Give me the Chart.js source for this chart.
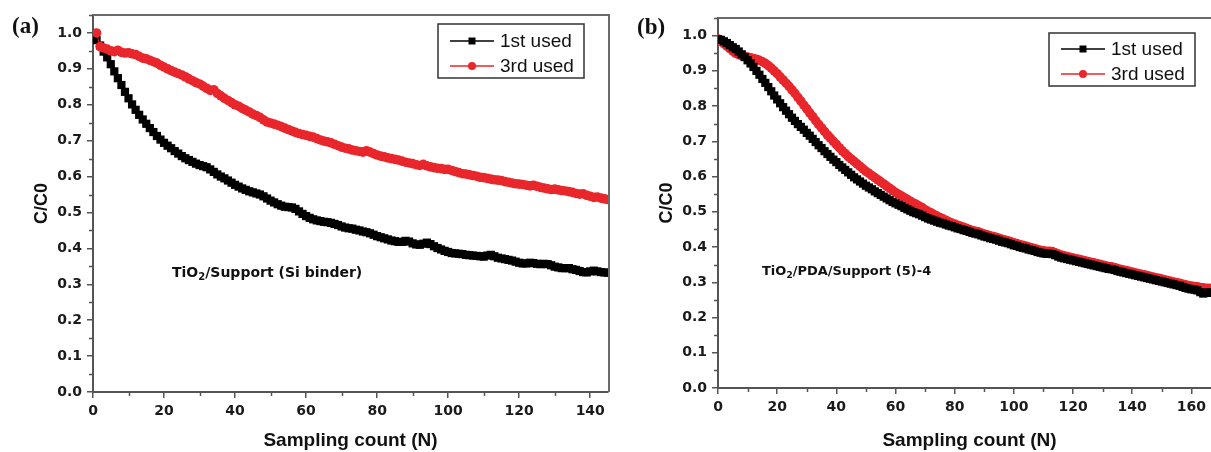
<!DOCTYPE html>
<html>
<head>
<meta charset="utf-8">
<title>C/C0 vs sampling count</title>
<script src="https://cdn.jsdelivr.net/npm/chart.js@4.4.0/dist/chart.umd.min.js"></script>
<style>
  html, body { margin: 0; padding: 0; background: #fff; overflow: hidden; }
  #wrap { position: relative; width: 1211px; height: 452px; overflow: hidden; }
  canvas { position: absolute; top: 0; }
  #chartA { left: 0; }
  #chartB { left: 620px; }
</style>
</head>
<body>
<div id="wrap">
  <canvas id="chartA" width="620" height="452"></canvas>
  <canvas id="chartB" width="620" height="452"></canvas>
</div>
<script>
// ─── DATA ───────────────────────────────────────────────────────────────────────
// panel (a): TiO2/Support (Si binder), sampling count starts at 1
var startA = 1;
var firstUsedA = [
    0.980, 0.965, 0.948, 0.932, 0.913, 0.893, 0.874, 0.855, 0.836, 0.818,
    0.801, 0.786, 0.772, 0.759, 0.747, 0.735, 0.724, 0.713, 0.703, 0.694,
    0.686, 0.679, 0.671, 0.664, 0.657, 0.651, 0.646, 0.641, 0.636, 0.632,
    0.629, 0.626, 0.620, 0.613, 0.606, 0.600, 0.595, 0.589, 0.583, 0.577,
    0.572, 0.567, 0.563, 0.559, 0.556, 0.553, 0.550, 0.545, 0.539, 0.533,
    0.528, 0.523, 0.519, 0.516, 0.515, 0.514, 0.510, 0.503, 0.496, 0.490,
    0.485, 0.481, 0.478, 0.476, 0.474, 0.473, 0.471, 0.468, 0.465, 0.461,
    0.458, 0.456, 0.455, 0.452, 0.450, 0.447, 0.445, 0.442, 0.438, 0.434,
    0.431, 0.428, 0.425, 0.422, 0.420, 0.418, 0.418, 0.421, 0.419, 0.414,
    0.411, 0.410, 0.413, 0.416, 0.412, 0.406, 0.401, 0.397, 0.393, 0.390,
    0.387, 0.386, 0.385, 0.384, 0.382, 0.381, 0.380, 0.379, 0.378, 0.377,
    0.380, 0.382, 0.378, 0.374, 0.372, 0.370, 0.368, 0.366, 0.363, 0.360,
    0.358, 0.358, 0.360, 0.359, 0.357, 0.356, 0.357, 0.356, 0.353, 0.349,
    0.347, 0.345, 0.345, 0.345, 0.342, 0.340, 0.337, 0.334, 0.333, 0.336,
    0.338, 0.336, 0.334, 0.333, 0.332
];
var thirdUsedA = [
    1.000, 0.962, 0.958, 0.955, 0.950, 0.948, 0.952, 0.946, 0.944, 0.945,
    0.942, 0.940, 0.935, 0.930, 0.928, 0.924, 0.920, 0.916, 0.910, 0.905,
    0.900, 0.895, 0.891, 0.887, 0.883, 0.878, 0.872, 0.867, 0.862, 0.858,
    0.852, 0.846, 0.840, 0.842, 0.832, 0.825, 0.818, 0.812, 0.806, 0.800,
    0.796, 0.790, 0.785, 0.780, 0.774, 0.770, 0.765, 0.758, 0.752, 0.749,
    0.746, 0.743, 0.739, 0.735, 0.731, 0.727, 0.723, 0.720, 0.717, 0.715,
    0.712, 0.710, 0.706, 0.702, 0.699, 0.697, 0.694, 0.690, 0.686, 0.682,
    0.679, 0.677, 0.674, 0.672, 0.670, 0.668, 0.672, 0.668, 0.664, 0.660,
    0.657, 0.655, 0.652, 0.650, 0.648, 0.646, 0.643, 0.640, 0.638, 0.636,
    0.633, 0.631, 0.634, 0.630, 0.627, 0.625, 0.623, 0.622, 0.620, 0.620,
    0.617, 0.614, 0.611, 0.608, 0.607, 0.605, 0.603, 0.601, 0.598, 0.597,
    0.595, 0.593, 0.591, 0.590, 0.589, 0.586, 0.584, 0.582, 0.580, 0.579,
    0.578, 0.576, 0.574, 0.576, 0.573, 0.570, 0.568, 0.566, 0.564, 0.565,
    0.563, 0.561, 0.560, 0.558, 0.556, 0.553, 0.551, 0.552, 0.548, 0.545,
    0.542, 0.543, 0.540, 0.538, 0.536
];

// panel (b): TiO2/PDA/Support (5)-4, sampling count starts at 0
var startB = 0;
var firstUsedB = [
    0.990, 0.988, 0.984, 0.979, 0.973, 0.967, 0.962, 0.955, 0.947, 0.939,
    0.930, 0.921, 0.911, 0.900, 0.889, 0.877, 0.866, 0.854, 0.842, 0.830,
    0.819, 0.808, 0.797, 0.787, 0.777, 0.767, 0.758, 0.749, 0.741, 0.733,
    0.724, 0.716, 0.707, 0.698, 0.689, 0.681, 0.672, 0.664, 0.656, 0.648,
    0.641, 0.633, 0.626, 0.619, 0.612, 0.605, 0.598, 0.592, 0.586, 0.580,
    0.574, 0.569, 0.564, 0.558, 0.553, 0.548, 0.543, 0.538, 0.533, 0.528,
    0.524, 0.520, 0.516, 0.511, 0.507, 0.503, 0.499, 0.496, 0.493, 0.489,
    0.485, 0.481, 0.478, 0.475, 0.472, 0.469, 0.467, 0.464, 0.461, 0.459,
    0.456, 0.453, 0.451, 0.448, 0.446, 0.443, 0.440, 0.438, 0.436, 0.433,
    0.430, 0.428, 0.425, 0.423, 0.421, 0.418, 0.415, 0.413, 0.411, 0.408,
    0.405, 0.403, 0.400, 0.398, 0.396, 0.393, 0.391, 0.389, 0.386, 0.384,
    0.382, 0.381, 0.381, 0.380, 0.377, 0.373, 0.370, 0.368, 0.366, 0.364,
    0.362, 0.360, 0.358, 0.356, 0.354, 0.352, 0.350, 0.348, 0.346, 0.344,
    0.342, 0.340, 0.338, 0.337, 0.335, 0.332, 0.330, 0.328, 0.326, 0.324,
    0.322, 0.320, 0.318, 0.316, 0.314, 0.312, 0.310, 0.308, 0.306, 0.304,
    0.302, 0.300, 0.298, 0.296, 0.294, 0.292, 0.290, 0.287, 0.284, 0.282,
    0.280, 0.279, 0.277, 0.272, 0.268, 0.270, 0.272, 0.270
];
var thirdUsedB = [
    0.990, 0.984, 0.977, 0.970, 0.963, 0.956, 0.950, 0.946, 0.943, 0.941,
    0.939, 0.937, 0.935, 0.933, 0.930, 0.926, 0.921, 0.915, 0.908, 0.900,
    0.892, 0.883, 0.874, 0.865, 0.856, 0.846, 0.836, 0.825, 0.814, 0.803,
    0.792, 0.781, 0.770, 0.759, 0.748, 0.738, 0.728, 0.718, 0.709, 0.700,
    0.691, 0.682, 0.673, 0.665, 0.657, 0.650, 0.643, 0.636, 0.629, 0.622,
    0.615, 0.609, 0.603, 0.597, 0.591, 0.585, 0.579, 0.573, 0.567, 0.561,
    0.555, 0.550, 0.545, 0.540, 0.535, 0.530, 0.525, 0.521, 0.516, 0.512,
    0.506, 0.501, 0.497, 0.492, 0.488, 0.484, 0.480, 0.476, 0.472, 0.468,
    0.465, 0.462, 0.459, 0.456, 0.453, 0.450, 0.447, 0.445, 0.443, 0.440,
    0.437, 0.435, 0.432, 0.430, 0.428, 0.425, 0.422, 0.420, 0.418, 0.415,
    0.412, 0.410, 0.407, 0.405, 0.403, 0.400, 0.398, 0.396, 0.393, 0.391,
    0.389, 0.388, 0.388, 0.387, 0.384, 0.380, 0.377, 0.375, 0.373, 0.371,
    0.369, 0.367, 0.365, 0.363, 0.361, 0.359, 0.357, 0.355, 0.353, 0.351,
    0.349, 0.347, 0.345, 0.344, 0.342, 0.339, 0.337, 0.335, 0.333, 0.331,
    0.329, 0.327, 0.325, 0.323, 0.321, 0.319, 0.317, 0.315, 0.313, 0.311,
    0.309, 0.307, 0.305, 0.303, 0.301, 0.299, 0.297, 0.295, 0.293, 0.291,
    0.289, 0.288, 0.287, 0.285, 0.284, 0.283, 0.283, 0.282
];

var seriesLabels = ['1st used', '3rd used'];
var seriesColors = ['#000000', '#e8262b'];
var xTitle = 'Sampling count (N)';
var yTitle = 'C/C0';

// ─── HELPERS ────────────────────────────────────────────────────────────────────
function toPoints(values, start) {
    var pts = [];
    for (var i = 0; i < values.length; i++) {
        pts.push({ x: start + i, y: values[i] });
    }
    return pts;
}

var SANS = '"Liberation Sans", Arial, sans-serif';
var WIDE = '"DejaVu Sans", sans-serif';

// frame, minor ticks, panel letter, sample label and legend box
var panelDecor = {
    id: 'panelDecor',
    afterDraw: function (chart, args, o) {
        var ctx = chart.ctx;
        var area = chart.chartArea;
        var xs = chart.scales.x, ys = chart.scales.y;
        ctx.save();

        ctx.strokeStyle = '#6a6a6a';
        ctx.lineWidth = 2;
        ctx.beginPath();
        ctx.moveTo(area.left, area.top);
        ctx.lineTo(area.right + 1, area.top);
        ctx.lineTo(area.right + 1, area.bottom);
        ctx.stroke();

        ctx.strokeStyle = '#555';
        ctx.lineWidth = 1.5;
        ctx.beginPath();
        for (var v = 0.05; v < ys.max; v += 0.1) {
            var py = Math.round(ys.getPixelForValue(v)) + 0.5;
            ctx.moveTo(area.left - 4, py);
            ctx.lineTo(area.left, py);
        }
        for (var n = 10; n < xs.max; n += 20) {
            var px = Math.round(xs.getPixelForValue(n)) + 0.5;
            ctx.moveTo(px, area.bottom);
            ctx.lineTo(px, area.bottom + 4);
        }
        ctx.stroke();

        ctx.fillStyle = '#111';
        ctx.textBaseline = 'middle';
        ctx.textAlign = 'left';
        ctx.font = 'bold 23px "Liberation Serif", "Times New Roman", serif';
        ctx.fillText(o.letter, o.letterAt[0], o.letterAt[1]);

        // sample name with subscript 2
        var fs = o.noteSize;
        var x = o.noteAt[0], y = o.noteAt[1];
        ctx.font = 'bold ' + fs + 'px ' + WIDE;
        ctx.fillText('TiO', x, y);
        x += ctx.measureText('TiO').width;
        ctx.font = 'bold ' + Math.round(fs * 0.7) + 'px ' + WIDE;
        ctx.fillText('2', x, y + fs * 0.3);
        x += ctx.measureText('2').width;
        ctx.font = 'bold ' + fs + 'px ' + WIDE;
        ctx.fillText(o.noteRest, x, y);

        // legend
        var b = o.legendBox;
        ctx.strokeStyle = '#333';
        ctx.lineWidth = 1.5;
        ctx.strokeRect(b[0], b[1], b[2], b[3]);
        chart.data.datasets.forEach(function (ds, i) {
            var ry = o.legendRows[i];
            var lx = b[0] + 12, rx = b[0] + 56, mx = (lx + rx) / 2;
            ctx.strokeStyle = ds.borderColor;
            ctx.lineWidth = 1.5;
            ctx.beginPath();
            ctx.moveTo(lx, ry);
            ctx.lineTo(rx, ry);
            ctx.stroke();
            ctx.fillStyle = ds.backgroundColor;
            ctx.beginPath();
            if (ds.pointStyle === 'rect') {
                ctx.rect(mx - 3.5, ry - 3.5, 7, 7);
            } else {
                ctx.arc(mx, ry, 4, 0, Math.PI * 2);
            }
            ctx.fill();
            ctx.fillStyle = '#111';
            ctx.font = '19px ' + SANS;
            ctx.fillText(ds.label, rx + 6, ry + 1);
        });
        ctx.restore();
    }
};

function makePanel(canvasId, first, third, start, xMax, geo) {
    var ctx = document.getElementById(canvasId).getContext('2d');
    return new Chart(ctx, {
        type: 'line',
        data: {
            datasets: [{
                label: seriesLabels[0],
                data: toPoints(first, start),
                borderColor: seriesColors[0],
                backgroundColor: seriesColors[0],
                borderWidth: 1,
                pointStyle: 'rect',
                pointRadius: 5.8,
                pointBorderWidth: 0,
                pointHoverRadius: 5.8,
                order: geo.redOnTop ? 1 : 0
            }, {
                label: seriesLabels[1],
                data: toPoints(third, start),
                borderColor: seriesColors[1],
                backgroundColor: seriesColors[1],
                borderWidth: 1,
                pointStyle: 'circle',
                pointRadius: 4.8,
                pointBorderWidth: 0,
                pointHoverRadius: 4.8,
                order: geo.redOnTop ? 0 : 1
            }]
        },
        options: {
            responsive: false,
            animation: false,
            devicePixelRatio: 1,
            layout: { padding: { left: 0, top: geo.top, right: geo.right, bottom: 0 } },
            plugins: {
                legend: { display: false },
                tooltip: { enabled: false },
                panelDecor: geo.decor
            },
            scales: {
                x: {
                    type: 'linear',
                    min: 0,
                    max: xMax,
                    afterFit: function (s) { s.height = geo.xHeight; },
                    ticks: {
                        stepSize: 20,
                        includeBounds: false,
                        autoSkip: false,
                        maxRotation: 0,
                        padding: 5,
                        color: '#1a1a1a',
                        font: { family: WIDE, size: 14, weight: 'bold' }
                    },
                    grid: { drawOnChartArea: false, tickLength: 6, color: '#555', lineWidth: 1.5 },
                    border: { color: '#555', width: 2 },
                    title: {
                        display: true,
                        text: xTitle,
                        color: '#111',
                        padding: { top: 0, bottom: 0 },
                        font: { family: SANS, size: 19, weight: 'bold' }
                    }
                },
                y: {
                    min: 0,
                    max: 1.05,
                    afterFit: function (s) { s.width = geo.yWidth; },
                    ticks: {
                        stepSize: 0.1,
                        includeBounds: false,
                        padding: 5,
                        color: '#1a1a1a',
                        font: { family: WIDE, size: 14, weight: 'bold' },
                        callback: function (v) { return v.toFixed(1); }
                    },
                    grid: { drawOnChartArea: false, tickLength: 6, color: '#555', lineWidth: 1.5 },
                    border: { color: '#555', width: 2 },
                    title: {
                        display: true,
                        text: yTitle,
                        color: '#111',
                        padding: { top: geo.yTitlePad, bottom: 0 },
                        font: { family: SANS, size: 18, weight: 'bold' }
                    }
                }
            }
        },
        plugins: [panelDecor]
    });
}

// ─── PANELS ─────────────────────────────────────────────────────────────────────
makePanel('chartA', firstUsedA, thirdUsedA, startA, 145, {
    top: 15, right: 12, xHeight: 60, yWidth: 93, yTitlePad: 31, redOnTop: true,
    decor: {
        letter: '(a)', letterAt: [12, 27],
        noteAt: [172, 273], noteSize: 14, noteRest: '/Support (Si binder)',
        legendBox: [438, 24, 146, 54], legendRows: [41, 66]
    }
});

makePanel('chartB', firstUsedB, thirdUsedB, startB, 170, {
    top: 18, right: 19, xHeight: 64, yWidth: 98, yTitlePad: 36, redOnTop: false,
    decor: {
        letter: '(b)', letterAt: [17, 28],
        noteAt: [142, 272], noteSize: 13, noteRest: '/PDA/Support (5)-4',
        legendBox: [429, 33, 146, 53], legendRows: [49, 74]
    }
});
</script>
</body>
</html>
